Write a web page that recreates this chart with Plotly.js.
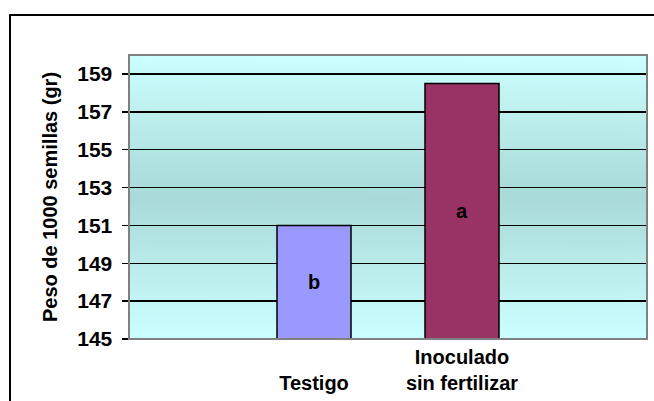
<!DOCTYPE html>
<html>
<head>
<meta charset="utf-8">
<script src="https://cdn.plot.ly/plotly-3.0.1.min.js"></script>
<style>
html,body{margin:0;padding:0;background:#fff;}
#chart{width:654px;height:401px;}
</style>
</head>
<body>
<div id="chart"></div>
<script>
const categories = ["Testigo", "Inoculado sin fertilizar"];
const tickLabels = ["&nbsp;<br>Testigo", "Inoculado<br>sin fertilizar"];
const values = [151, 158.5];
const letters = ["b", "a"];
const barColors = ["#9999FF", "#993366"];
const yTicks = [145, 147, 149, 151, 153, 155, 157, 159];
const axisMin = 145;

// vertical gradient background for the plot area
const cv = document.createElement('canvas');
cv.width = 10; cv.height = 284;
const ctx = cv.getContext('2d');
const g = ctx.createLinearGradient(0, 0, 0, 284);
g.addColorStop(0, '#CCFFFF');
g.addColorStop(0.5, '#A9D9D9');
g.addColorStop(1, '#CCFFFF');
ctx.fillStyle = g;
ctx.fillRect(0, 0, 10, 284);
const bg = cv.toDataURL();

const fam = 'Arial, "Liberation Sans", sans-serif';

const trace = {
  type: 'bar',
  x: categories,
  base: axisMin,
  y: values.map(v => v - axisMin),
  width: 0.5,
  marker: {color: barColors, line: {color: '#000', width: 1.5}},
  text: letters.map(s => '<b>' + s + '</b>'),
  textposition: 'inside',
  insidetextanchor: 'middle',
  textangle: 0,
  textfont: {family: fam, size: 20, color: '#000'},
  hoverinfo: 'none'
};

const layout = {
  width: 654, height: 401,
  margin: {l: 129, r: 7, t: 55, b: 62},
  paper_bgcolor: '#fff',
  plot_bgcolor: 'rgba(0,0,0,0)',
  showlegend: false,
  font: {family: fam, size: 20, color: '#000'},
  xaxis: {
    type: 'category',
    range: [-1.25, 2.25],
    tickvals: categories,
    ticktext: tickLabels.map(s => '<b>' + s.replace('<br>', '</b><br><b>') + '</b>'),
    ticks: '',
    ticklabelstandoff: 4,
    showgrid: false,
    zeroline: false,
    showline: false,
    tickfont: {family: fam, size: 20, color: '#000'},
    fixedrange: true
  },
  yaxis: {
    range: [145, 160],
    tickvals: yTicks,
    ticktext: yTicks.map(v => '<b>' + v + '</b>'),
    ticks: 'outside',
    ticklen: 6,
    tickwidth: 1.5,
    tickcolor: '#000',
    ticklabelstandoff: 5,
    showgrid: true,
    gridcolor: '#000',
    gridwidth: 1.5,
    zeroline: false,
    showline: true,
    linecolor: '#000',
    linewidth: 1.5,
    tickfont: {family: fam, size: 21, color: '#000'},
    title: {text: '<b>Peso de 1000 semillas (gr)</b>', font: {family: fam, size: 20, color: '#000'}, standoff: 14},
    fixedrange: true
  },
  images: [{
    source: bg, xref: 'paper', yref: 'paper', x: 0, y: 1, sizex: 1, sizey: 1,
    sizing: 'stretch', xanchor: 'left', yanchor: 'top', layer: 'below'
  }],
  shapes: [
    {type: 'rect', xref: 'paper', yref: 'paper', x0: 0, x1: 1, y0: 0, y1: 1,
     line: {color: '#808080', width: 2}, layer: 'above'},
    {type: 'path', xref: 'paper', yref: 'paper',
     path: 'M -0.2297,-0.3 L -0.2297,1.1408 L 1.05,1.1408',
     line: {color: '#000', width: 2}, layer: 'above'}
  ]
};

Plotly.newPlot('chart', [trace], layout, {displayModeBar: false, staticPlot: true});
</script>
</body>
</html>
